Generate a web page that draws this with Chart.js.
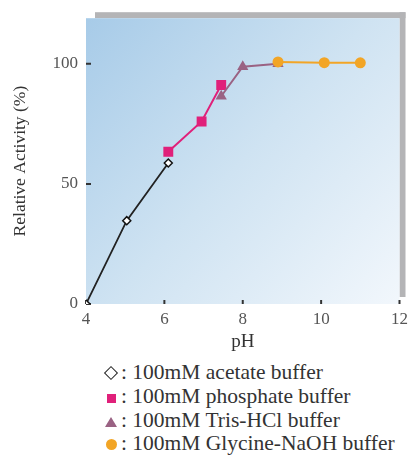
<!DOCTYPE html>
<html lang="en">
<head>
<meta charset="UTF-8">
<title>pH stability</title>
<script src="https://cdn.jsdelivr.net/npm/chart.js"></script>
<style>
    body { margin: 0; background: #fff; width: 413px; height: 459px; overflow: hidden; position: relative; }
    #box { position: absolute; left: 0; top: 0; width: 413px; height: 355px; }
    .legenda { position: absolute; left: 101px; top: 361px; font-family: "Liberation Serif", serif; font-size: 21.5px; line-height: 23.8px; color: #333; }
    .linha { white-space: nowrap; }
    .simb { display: inline-block; width: 20px; text-align: center; }
    .sq { display: inline-block; width: 9px; height: 9px; background: #e0207a; }
    .ci { display: inline-block; width: 11px; height: 11px; border-radius: 50%; background: #f2a526; }
    .tri { display: inline-block; width: 0; height: 0; border-left: 6px solid transparent; border-right: 6px solid transparent; border-bottom: 10px solid #9a6283; }
    .dia { display: inline-block; width: 8px; height: 8px; border: 1.5px solid #222; transform: rotate(45deg); margin-bottom: 1px; }
</style>
</head>
<body>
<div id="box"><canvas id="grafico"></canvas></div>
<div class="legenda">
    <div class="linha"><span class="simb"><span class="dia"></span></span>: 100mM acetate buffer</div>
    <div class="linha"><span class="simb"><span class="sq"></span></span>: 100mM phosphate buffer</div>
    <div class="linha"><span class="simb"><span class="tri"></span></span>: 100mM Tris-HCl buffer</div>
    <div class="linha"><span class="simb"><span class="ci"></span></span>: 100mM Glycine-NaOH buffer</div>
</div>
<script>
    // valores
    const phAcetato = [4, 5.04, 6.1];
    const ativAcetato = [0, 34.7, 58.7];
    const phFosfato = [6.1, 6.95, 7.45];
    const ativFosfato = [63.4, 76, 91.2];
    const phTris = [7.45, 8.0, 8.9];
    const ativTris = [86.5, 98.8, 100];
    const phGlicina = [8.9, 10.08, 11.0];
    const ativGlicina = [100.8, 100.5, 100.4];
    const ticksX = [4, 6, 8, 10, 12];
    const ticksY = [0, 50, 100];

    function pontos(xs, ys) {
        return xs.map((x, i) => ({ x: x, y: ys[i] }));
    }

    // fundo em degradê + sombra cinza
    const fundo = {
        id: 'fundo',
        beforeDraw(chart) {
            const { ctx, chartArea: a } = chart;
            ctx.save();
            ctx.fillStyle = '#b4b4b6';
            ctx.fillRect(a.left + 9, a.top - 6, a.right - a.left - 9 + 6, 6);
            ctx.fillRect(a.right, a.top - 6, 6, a.bottom - a.top - 1);
            const g = ctx.createLinearGradient(a.left, a.top, a.right, a.bottom);
            g.addColorStop(0, '#a7cbe8');
            g.addColorStop(0.5, '#cfe3f2');
            g.addColorStop(1, '#f2f7fc');
            ctx.fillStyle = g;
            ctx.fillRect(a.left, a.top, a.right - a.left, a.bottom - a.top);
            ctx.restore();
        }
    };

    // marcas curtas dos ticks para dentro
    const marcas = {
        id: 'marcas',
        beforeDatasetsDraw(chart) {
            const { ctx, chartArea: a, scales } = chart;
            ctx.save();
            ctx.strokeStyle = '#333';
            ctx.lineWidth = 2;
            ctx.beginPath();
            ticksX.forEach(v => {
                const px = scales.x.getPixelForValue(v);
                ctx.moveTo(px, a.bottom);
                ctx.lineTo(px, a.bottom - 4);
            });
            ticksY.forEach(v => {
                const py = scales.y.getPixelForValue(v);
                ctx.moveTo(a.left, py);
                ctx.lineTo(a.left + 5, py);
            });
            ctx.stroke();
            ctx.restore();
        }
    };

    const serif = '"Liberation Serif", serif';

    new Chart(document.getElementById('grafico'), {
        type: 'scatter',
        data: {
            datasets: [
                {
                    label: 'Glycine-NaOH', data: pontos(phGlicina, ativGlicina), showLine: true, order: 1,
                    borderColor: '#f2a526', backgroundColor: '#f2a526', borderWidth: 2,
                    pointStyle: 'circle', pointRadius: 5.5, pointBorderWidth: 0
                },
                {
                    label: 'Tris-HCl', data: pontos(phTris, ativTris), showLine: true, order: 2,
                    borderColor: '#9a6283', backgroundColor: '#9a6283', borderWidth: 2,
                    pointStyle: 'triangle', pointRadius: 6.5, pointBorderWidth: 0
                },
                {
                    label: 'phosphate', data: pontos(phFosfato, ativFosfato), showLine: true, order: 3,
                    borderColor: '#e0207a', backgroundColor: '#e0207a', borderWidth: 2,
                    pointStyle: 'rect', pointRadius: 7, pointBorderWidth: 0
                },
                {
                    label: 'acetate', data: pontos(phAcetato, ativAcetato), showLine: true, order: 4,
                    borderColor: '#222', backgroundColor: '#fff', borderWidth: 1.8,
                    pointStyle: 'rectRot', pointRadius: 4, pointBorderWidth: 1.5, pointBorderColor: '#111'
                }
            ]
        },
        options: {
            responsive: true,
            maintainAspectRatio: false,
            animation: false,
            layout: { padding: { top: 16, right: 11, left: 0, bottom: 0 } },
            plugins: { legend: { display: false }, tooltip: { enabled: false } },
            scales: {
                x: {
                    type: 'linear', min: 4, max: 12,
                    afterFit(s) { s.height = 51; },
                    afterBuildTicks(s) { s.ticks = ticksX.map(v => ({ value: v })); },
                    grid: { display: false, drawTicks: false },
                    border: { display: false },
                    ticks: { color: '#555', font: { family: serif, size: 17 }, padding: 5 },
                    title: { display: true, text: 'pH', color: '#333', font: { family: serif, size: 19 }, padding: { top: 0, bottom: 2 } }
                },
                y: {
                    type: 'linear', min: 0, max: 119,
                    afterFit(s) { s.width = 86; },
                    afterBuildTicks(s) { s.ticks = ticksY.map(v => ({ value: v })); },
                    grid: { display: false, drawTicks: false },
                    border: { display: false },
                    ticks: { color: '#555', font: { family: serif, size: 17 }, padding: 8 },
                    title: { display: true, text: 'Relative Activity (%)', color: '#333', font: { family: serif, size: 17.5 }, padding: { top: 10, bottom: 0 } }
                }
            }
        },
        plugins: [fundo, marcas]
    });
</script>
</body>
</html>
